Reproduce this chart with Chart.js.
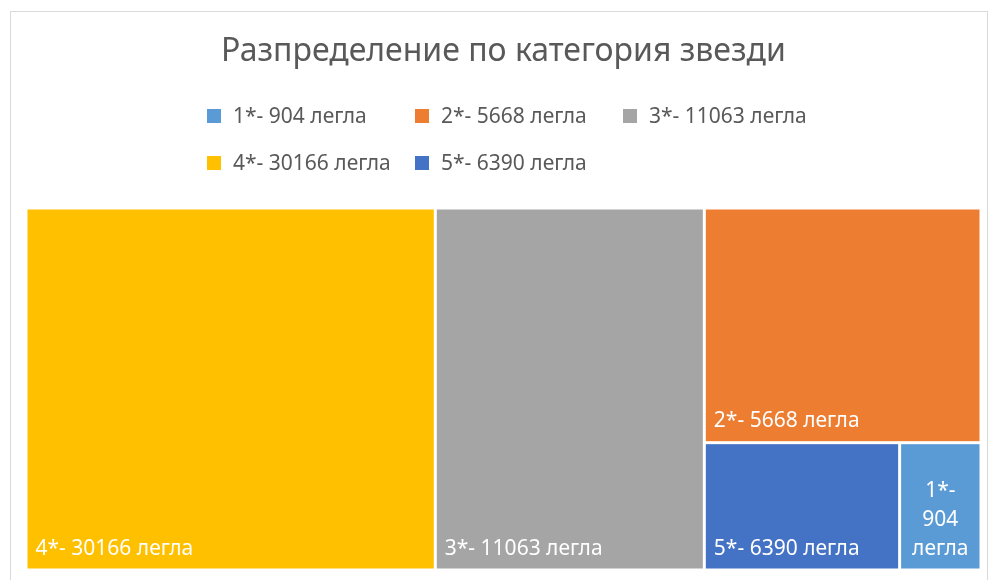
<!DOCTYPE html>
<html>
<head>
<meta charset="utf-8">
<script src="https://cdn.jsdelivr.net/npm/chart.js@4.4.1/dist/chart.umd.min.js"></script>
<style>
  html, body { margin: 0; padding: 0; background: #fff; }
  #wrap { position: relative; width: 996px; height: 580px; overflow: hidden; }
  #frame { position: absolute; left: 10px; top: 11px; width: 978px; height: 600px; border: 1px solid #d9d9d9; box-sizing: border-box; }
  canvas { position: absolute; left: 0; top: 0; }
</style>
</head>
<body>
<div id="wrap">
  <div id="frame"></div>
  <canvas id="treemapCanvas" width="996" height="580"></canvas>
</div>
<script>
const FONT = "'Noto Sans', sans-serif";

// категории (легенда) и площ на всяка клетка, отчетена от картинката (в %)
const categories = ["1*- 904 легла", "2*- 5668 легла", "3*- 11063 легла", "4*- 30166 легла", "5*- 6390 легла"];
const areaShares = [3.0, 18.8, 28.2, 42.9, 7.2];
const colors = ["#5B9BD5", "#ED7D31", "#A5A5A5", "#FFC000", "#4472C4"];

// squarified layout in a [0,A]x[0,1] box
function worst(row, side) {
  const s = row.reduce((a, r) => a + r.area, 0);
  let w = 0;
  row.forEach((r) => {
    w = Math.max(w, (side * side * r.area) / (s * s), (s * s) / (side * side * r.area));
  });
  return w;
}

function squarify(items, x, y, w, h, out) {
  let rest = items.slice();
  while (rest.length) {
    const side = Math.min(w, h);
    let row = [rest[0]];
    let i = 1;
    while (i < rest.length && worst(row.concat(rest[i]), side) <= worst(row, side)) {
      row.push(rest[i]);
      i++;
    }
    rest = rest.slice(i);
    const s = row.reduce((a, r) => a + r.area, 0);
    if (w >= h) {
      const cw = s / h;
      let cy = y;
      row.forEach((r) => {
        const ch = r.area / cw;
        out.push({ ...r, x0: x, y0: cy, x1: x + cw, y1: cy + ch });
        cy += ch;
      });
      x += cw; w -= cw;
    } else {
      const ch = s / w;
      let cx = x;
      row.forEach((r) => {
        const cw = r.area / ch;
        out.push({ ...r, x0: cx, y0: y, x1: cx + cw, y1: y + ch });
        cx += cw;
      });
      y += ch; h -= ch;
    }
  }
  return out;
}

function drawLabel(ctx, text, l, t, r, b) {
  const pad = 8;
  ctx.font = "21px " + FONT;
  ctx.fillStyle = "#ffffff";
  ctx.textBaseline = "alphabetic";
  const avail = r - l - pad * 2;
  if (ctx.measureText(text).width <= avail) {
    ctx.textAlign = "left";
    ctx.fillText(text, l + pad, b - 14);
    return;
  }
  const words = text.split(" ");
  const lines = [];
  let cur = "";
  words.forEach((wd) => {
    const test = cur ? cur + " " + wd : wd;
    if (cur && ctx.measureText(test).width > avail) {
      lines.push(cur);
      cur = wd;
    } else {
      cur = test;
    }
  });
  if (cur) lines.push(cur);
  ctx.textAlign = "center";
  const lh = 29;
  lines.forEach((ln, k) => {
    ctx.fillText(ln, (l + r) / 2, b - 14 - (lines.length - 1 - k) * lh);
  });
}

const treemapPlugin = {
  id: "treemapCells",
  beforeDatasetsDraw(chart) {
    const { ctx, chartArea: ca, scales } = chart;
    const A = (ca.right - ca.left) / (ca.bottom - ca.top);
    const total = areaShares.reduce((a, v) => a + v, 0);
    const items = categories
      .map((c, i) => ({ label: c, color: colors[i], area: (areaShares[i] / total) * A }))
      .sort((a, b) => b.area - a.area);
    const cells = squarify(items, 0, 0, A, 1, []);
    const gap = 1.5;
    ctx.save();
    cells.forEach((c) => {
      const l = scales.x.getPixelForValue(c.x0 / A) + gap;
      const r = scales.x.getPixelForValue(c.x1 / A) - gap;
      const t = scales.y.getPixelForValue(c.y0) + gap;
      const b = scales.y.getPixelForValue(c.y1) - gap;
      ctx.fillStyle = c.color;
      ctx.fillRect(l, t, r - l, b - t);
      drawLabel(ctx, c.label, l, t, r, b);
    });
    ctx.restore();
  },
  afterDraw(chart) {
    const ctx = chart.ctx;
    const left = 207, colW = 208, rows = [116, 163], perRow = 3, box = 14;
    ctx.save();
    ctx.font = "21px " + FONT;
    ctx.textBaseline = "middle";
    ctx.textAlign = "left";
    categories.forEach((c, i) => {
      const x = left + (i % perRow) * colW;
      const y = rows[Math.floor(i / perRow)];
      ctx.fillStyle = colors[i];
      ctx.fillRect(x, y - box / 2, box, box);
      ctx.fillStyle = "#595959";
      ctx.fillText(c, x + 26, y + 1);
    });
    ctx.restore();
  },
};

new Chart(document.getElementById("treemapCanvas"), {
  type: "scatter",
  data: { datasets: [{ label: "Разпределение", data: [] }] },
  options: {
    responsive: false,
    animation: false,
    layout: { padding: { left: 26, right: 15, top: 0, bottom: 10 } },
    scales: {
      x: { type: "linear", min: 0, max: 1, display: false },
      y: { type: "linear", min: 0, max: 1, reverse: true, display: false },
    },
    plugins: {
      legend: { display: false },
      tooltip: { enabled: false },
      title: {
        display: true,
        text: "Разпределение по категория звезди",
        color: "#595959",
        font: { family: FONT, size: 32, weight: "normal", lineHeight: 1.2 },
        padding: { top: 33, bottom: 136.6 },
      },
    },
  },
  plugins: [treemapPlugin],
});
</script>
</body>
</html>
